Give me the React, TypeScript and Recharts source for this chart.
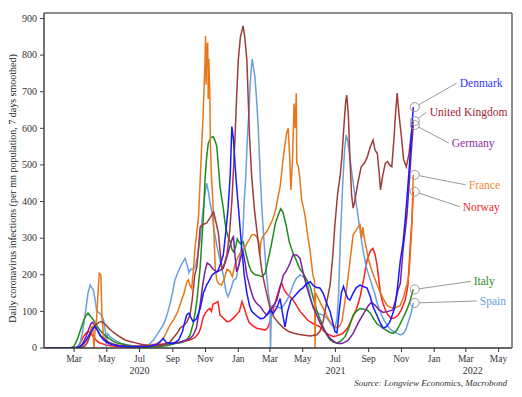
import { LineChart, Line, XAxis, YAxis, ReferenceDot } from "recharts";

const FONT = '"Liberation Serif", "DejaVu Serif", serif';

// day = days since 1 Jan 2020, value = daily infections per mn population (7d smoothed)
const denmark: [number, number][] = [
  [5, 0], [60, 0], [67, 2], [75, 8], [82, 20], [90, 40], [95, 52], [99, 58], [103, 50], [108, 35], [115, 22], [125, 12],
  [140, 6], [160, 4], [180, 4], [200, 5], [215, 10], [222, 20], [226, 26], [232, 15], [245, 12], [255, 22], [262, 45],
  [266, 70], [270, 90], [274, 95], [278, 82], [282, 72], [288, 80], [295, 108], [301, 150], [307, 172], [312, 185],
  [317, 199], [322, 205], [328, 210], [333, 230], [338, 254], [343, 320], [347, 382], [351, 473], [354, 605], [357, 570],
  [360, 500], [363, 440], [367, 370], [372, 280], [377, 200], [382, 150], [387, 115], [391, 100], [400, 88], [407, 80],
  [413, 81], [419, 90], [425, 104], [431, 95], [438, 110], [444, 135], [449, 90], [453, 58], [458, 100], [464, 131],
  [470, 140], [476, 150], [481, 158], [487, 165], [493, 175], [500, 181], [506, 170], [512, 165], [518, 164], [524, 150],
  [530, 125], [537, 100], [542, 70], [546, 45], [550, 41], [554, 100], [558, 150], [562, 168], [566, 150], [570, 135],
  [574, 131], [580, 150], [586, 165], [593, 172], [599, 168], [606, 164], [612, 140], [617, 113], [624, 90], [630, 70],
  [636, 54], [642, 58], [648, 70], [653, 90], [658, 113], [663, 170], [668, 240], [673, 287], [677, 350], [680, 404],
  [684, 480], [688, 570], [692, 658],
];

const unitedKingdom: [number, number][] = [
  [5, 0], [70, 0], [75, 2], [80, 5], [85, 15], [90, 35], [95, 55], [100, 62], [106, 70], [112, 72], [118, 65], [124, 55],
  [130, 47], [138, 38], [146, 30], [155, 22], [164, 18], [175, 14], [185, 10], [200, 7], [215, 6], [228, 9], [238, 15],
  [245, 28], [252, 40], [258, 55], [265, 62], [270, 70], [276, 90], [280, 130], [285, 200], [289, 222], [295, 331],
  [301, 338], [307, 341], [313, 355], [320, 372], [325, 340], [329, 313], [333, 250], [336, 213], [340, 230], [345, 255],
  [350, 320], [354, 400], [357, 486], [360, 577], [363, 690], [366, 787], [370, 850], [375, 880], [378, 850], [382, 787],
  [387, 577], [391, 468], [396, 380], [403, 290], [410, 210], [417, 160], [425, 110], [432, 85], [440, 70], [450, 55],
  [460, 45], [470, 40], [480, 37], [490, 35], [500, 33], [512, 36], [518, 45], [524, 72], [530, 120], [537, 172],
  [542, 250], [546, 336], [551, 420], [556, 473], [559, 520], [563, 610], [566, 670], [568, 691], [571, 640], [574, 520],
  [577, 420], [580, 382], [583, 400], [586, 427], [590, 460], [595, 495], [601, 505], [606, 520], [612, 550], [617, 568],
  [621, 540], [625, 532], [629, 470], [631, 432], [635, 470], [640, 505], [644, 509], [648, 500], [652, 495], [656, 570],
  [659, 640], [662, 696], [666, 630], [670, 577], [674, 515], [679, 495], [684, 530], [688, 580], [692, 620],
];

const germany: [number, number][] = [
  [5, 0], [62, 0], [70, 3], [76, 12], [82, 30], [87, 50], [91, 65], [94, 70], [98, 64], [103, 50], [109, 35], [116, 24],
  [124, 16], [134, 10], [145, 6], [160, 4], [180, 4], [200, 6], [220, 8], [240, 12], [255, 15], [265, 20], [275, 25],
  [282, 35], [288, 55], [292, 90], [296, 130], [300, 175], [304, 210], [308, 232], [313, 227], [319, 215], [326, 208],
  [332, 212], [338, 218], [344, 245], [348, 265], [351, 281], [355, 300], [357, 304], [360, 250], [363, 208], [367, 225],
  [371, 250], [375, 263], [379, 230], [382, 199], [388, 165], [394, 136], [400, 122], [407, 113], [413, 100], [419, 90],
  [425, 99], [431, 115], [438, 131], [443, 160], [450, 199], [455, 209], [462, 230], [468, 254], [475, 254], [481, 245],
  [487, 205], [494, 165], [500, 136], [506, 110], [512, 90], [518, 70], [524, 54], [531, 38], [537, 27], [545, 17],
  [552, 12], [559, 12], [570, 20], [580, 40], [590, 70], [600, 95], [608, 115], [614, 125], [620, 118], [628, 105],
  [636, 97], [645, 100], [654, 104], [660, 135], [664, 160], [668, 177], [673, 268], [677, 320], [680, 359], [684, 440],
  [688, 530], [692, 609],
];

const france: [number, number][] = [
  [5, 0], [55, 0], [65, 1], [72, 4], [78, 10], [84, 22], [88, 35], [92, 55], [95, 60], [97, 0], [99, 45], [102, 80],
  [105, 160], [107, 204], [110, 199], [112, 86], [115, 31], [120, 20], [130, 12], [140, 8], [155, 5], [175, 5], [195, 7],
  [210, 10], [220, 16], [227, 28], [233, 45], [239, 63], [245, 76], [252, 95], [258, 120], [265, 150], [270, 180],
  [273, 186], [276, 170], [279, 163], [282, 205], [285, 268], [289, 320], [292, 360], [295, 460], [298, 560], [300, 620],
  [302, 700], [304, 780], [305, 852], [306, 720], [307, 830], [309, 832], [310, 680], [311, 790], [313, 696], [314, 560],
  [316, 468], [318, 420], [321, 300], [323, 220], [326, 185], [330, 175], [335, 172], [340, 190], [345, 215], [350, 210],
  [355, 195], [360, 230], [366, 250], [372, 265], [379, 277], [386, 295], [391, 309], [396, 310], [400, 304], [404, 290],
  [406, 255], [408, 290], [412, 305], [416, 313], [420, 320], [425, 336], [430, 350], [436, 380], [441, 420], [444, 441],
  [450, 523], [456, 587], [459, 600], [462, 514], [464, 432], [467, 514], [470, 668], [472, 600], [474, 696], [475, 505],
  [478, 495], [481, 459], [484, 404], [488, 380], [491, 355], [496, 300], [500, 263], [505, 199], [508, 185], [509, 0],
  [510, 150], [515, 136], [520, 120], [524, 109], [530, 90], [537, 72], [543, 62], [550, 55], [555, 60], [559, 72],
  [565, 130], [571, 199], [576, 260], [580, 309], [585, 320], [589, 330], [593, 336], [596, 300], [598, 330], [602, 290],
  [605, 270], [608, 245], [613, 220], [618, 199], [624, 175], [630, 154], [636, 135], [643, 117], [649, 111], [655, 109],
  [662, 112], [668, 117], [674, 140], [680, 172], [684, 200], [686, 245], [689, 320], [691, 420], [692, 473],
];

const norway: [number, number][] = [
  [5, 0], [60, 0], [66, 3], [72, 15], [77, 30], [82, 40], [86, 45], [90, 42], [94, 35], [98, 28], [102, 20], [106, 15],
  [112, 12], [120, 8], [135, 5], [160, 3], [180, 3], [200, 5], [220, 10], [240, 12], [255, 15], [265, 18], [275, 22],
  [285, 28], [292, 40], [296, 55], [301, 86], [306, 98], [310, 105], [313, 108], [316, 100], [319, 120], [323, 122],
  [328, 127], [332, 90], [338, 82], [345, 72], [350, 73], [356, 81], [362, 90], [368, 100], [373, 127], [377, 110],
  [381, 90], [386, 70], [392, 62], [400, 54], [408, 52], [416, 49], [421, 55], [425, 72], [431, 104], [438, 140],
  [444, 170], [447, 177], [451, 160], [456, 149], [462, 140], [468, 131], [475, 115], [481, 100], [487, 90], [496, 75],
  [505, 67], [512, 62], [518, 58], [526, 45], [533, 38], [543, 31], [552, 35], [561, 40], [570, 55], [580, 86], [587, 110],
  [593, 140], [600, 190], [606, 240], [612, 265], [617, 272], [621, 255], [625, 222], [628, 185], [631, 149], [635, 125],
  [640, 104], [645, 90], [651, 81], [657, 82], [664, 90], [670, 105], [677, 131], [682, 170], [686, 268], [690, 360],
  [692, 427],
];

const italy: [number, number][] = [
  [5, 0], [52, 0], [56, 2], [60, 5], [65, 20], [70, 40], [74, 58], [78, 75], [82, 88], [86, 95], [90, 88], [96, 77],
  [102, 62], [108, 49], [115, 38], [121, 31], [127, 24], [133, 18], [142, 13], [152, 10], [165, 6], [180, 4], [200, 3],
  [220, 4], [235, 7], [248, 12], [260, 15], [270, 22], [276, 35], [282, 67], [286, 100], [289, 131], [292, 175],
  [295, 222], [298, 290], [301, 359], [304, 459], [307, 520], [310, 559], [315, 575], [319, 577], [323, 565], [326, 550],
  [329, 495], [332, 440], [335, 410], [338, 382], [341, 345], [344, 320], [348, 300], [351, 290], [354, 270], [357, 263],
  [361, 275], [364, 298], [367, 290], [370, 285], [375, 290], [380, 260], [386, 225], [390, 210], [394, 204], [398, 200],
  [403, 199], [410, 195], [416, 204], [420, 230], [425, 263], [430, 300], [435, 340], [440, 362], [445, 380], [449, 372],
  [455, 336], [461, 290], [468, 259], [474, 240], [481, 215], [487, 204], [494, 185], [500, 168], [506, 135], [512, 104],
  [518, 80], [524, 58], [530, 38], [537, 22], [543, 16], [550, 13], [558, 20], [565, 31], [572, 55], [580, 90], [586, 100],
  [593, 108], [600, 106], [606, 104], [612, 95], [618, 80], [624, 67], [632, 58], [640, 50], [648, 43], [655, 40],
  [662, 50], [668, 67], [674, 85], [680, 104], [686, 128], [692, 160],
];

const spain: [number, number][] = [
  [5, 0], [60, 0], [66, 3], [71, 13], [76, 45], [81, 95], [86, 150], [90, 172], [93, 165], [96, 159], [100, 125],
  [102, 102], [106, 97], [110, 92], [115, 77], [118, 49], [120, 3], [122, 40], [127, 31], [133, 24], [140, 18], [150, 11],
  [160, 8], [175, 5], [188, 4], [195, 5], [200, 10], [208, 22], [214, 35], [220, 49], [225, 60], [230, 76], [235, 100],
  [239, 122], [244, 155], [248, 186], [253, 205], [258, 222], [263, 235], [267, 245], [271, 225], [274, 205], [277, 215],
  [282, 215], [286, 222], [290, 250], [295, 295], [299, 360], [303, 410], [307, 450], [310, 430], [313, 400], [317, 370],
  [320, 330], [326, 280], [332, 240], [338, 200], [343, 155], [347, 140], [352, 160], [357, 185], [362, 190], [366, 220],
  [370, 260], [374, 300], [377, 400], [380, 468], [383, 577], [386, 650], [388, 714], [390, 760], [392, 789], [395, 760],
  [397, 741], [400, 680], [403, 609], [407, 468], [410, 380], [414, 290], [418, 210], [422, 150], [425, 122], [426, 0],
  [428, 115], [433, 115], [438, 113], [446, 108], [452, 120], [457, 131], [463, 150], [468, 172], [474, 190], [481, 199],
  [487, 195], [494, 181], [500, 140], [506, 108], [515, 95], [524, 90], [532, 80], [540, 62], [546, 54], [550, 80],
  [553, 150], [556, 290], [560, 430], [564, 540], [567, 582], [570, 565], [574, 520], [578, 473], [583, 420], [587, 382],
  [592, 330], [596, 290], [600, 255], [605, 218], [610, 195], [615, 172], [620, 150], [624, 127], [628, 108], [633, 90],
  [638, 75], [643, 63], [649, 52], [655, 45], [662, 40], [668, 36], [674, 40], [678, 50], [683, 72], [688, 95], [692, 123],
];

// name, series, line colour, label colour, label offset from end marker
const countries = [
  { name: "Norway", data: norway, line: "#ff1f1f", text: "#f22a2a", dx: 48, dy: 15 },
  { name: "Spain", data: spain, line: "#6a9fdc", text: "#5f9de2", dx: 65, dy: -2 },
  { name: "Italy", data: italy, line: "#1e8c1e", text: "#2a8a2a", dx: 59, dy: -8 },
  { name: "France", data: france, line: "#e8771a", text: "#f08a36", dx: 54, dy: 10 },
  { name: "Germany", data: germany, line: "#7a1f9c", text: "#8a2d9c", dx: 37, dy: 18 },
  { name: "United Kingdom", data: unitedKingdom, line: "#9e3b3b", text: "#a01c34", dx: 15, dy: -9 },
  { name: "Denmark", data: denmark, line: "#1a1aff", text: "#3333ff", dx: 45, dy: -24 },
];

const monthNames = ["Jan", "Feb", "Mar", "Apr", "May", "Jun", "Jul", "Aug", "Sep", "Oct", "Nov", "Dec"];
const tickMonths: [number, number][] = [
  [2020, 2], [2020, 4], [2020, 6], [2020, 8], [2020, 10], [2021, 0], [2021, 2], [2021, 4], [2021, 6], [2021, 8],
  [2021, 10], [2022, 0], [2022, 2], [2022, 4],
];
const yearLabels: [number, number, string][] = [[2020, 6, "2020"], [2021, 6, "2021"], [2022, 2, "2022"]];
const yTicks = [0, 100, 200, 300, 400, 500, 600, 700, 800, 900];

const DAY = 86400000;
const dayOf = (y: number, m: number) => (Date.UTC(y, m, 1) - Date.UTC(2020, 0, 1)) / DAY;
const xTicks = tickMonths.map(([y, m]) => dayOf(y, m));

const W = 522;
const H = 397;
const M = { top: 13, right: 10, left: 0, bottom: 19 };
const Y_W = 44;
const X_H = 30;

function MonthTick(props: any) {
  const { x, y, payload } = props;
  const d = new Date(Date.UTC(2020, 0, 1) + payload.value * DAY);
  const yl = yearLabels.find(([yy, mm]) => dayOf(yy, mm) === payload.value);
  return (
    <g>
      <text x={x} y={y + 8} textAnchor="middle" fontSize={9.5} fill="#333" fontFamily={FONT}>
        {monthNames[d.getUTCMonth()]}
      </text>
      {yl && (
        <text x={x + (yl[2] === "2022" ? 7 : 0)} y={y + 19.5} textAnchor="middle" fontSize={10} fill="#333" fontFamily={FONT}>
          {yl[2]}
        </text>
      )}
    </g>
  );
}

function ValueTick(props: any) {
  const { x, y, payload } = props;
  return (
    <text x={x - 1} y={y} dy={3.3} textAnchor="end" fontSize={10} fill="#333" fontFamily={FONT}>
      {payload.value}
    </text>
  );
}

function EndMark({ cx, cy, c }: any) {
  if (cx == null || cy == null) return null;
  const ox = cx + 1.5;
  const r = 4.5;
  const ex = ox + c.dx - 3;
  const ey = cy + c.dy;
  const a = Math.atan2(ey - cy, ex - ox);
  return (
    <g>
      <circle cx={ox} cy={cy} r={r} fill="none" stroke="#999" strokeWidth={1} />
      <line x1={ox + r * Math.cos(a)} y1={cy + r * Math.sin(a)} x2={ex} y2={ey} stroke="#999" strokeWidth={1} />
      <text x={ox + c.dx} y={ey} dy={4} fontSize={11.5} fill={c.text} fontFamily={FONT}>
        {c.name}
      </text>
    </g>
  );
}

export default function App() {
  const plotL = M.left + Y_W;
  const plotR = W - M.right;
  const plotT = M.top;
  const plotB = H - M.bottom - X_H;
  return (
    <div style={{ position: "absolute", left: 0, top: 0, width: W, height: H, background: "#fff" }}>
      <LineChart width={W} height={H} margin={M}>
        <XAxis
          type="number"
          dataKey="day"
          domain={[4, 876]}
          ticks={xTicks}
          tick={<MonthTick />}
          height={X_H}
          tickSize={4}
          axisLine={{ stroke: "#333", strokeWidth: 1.5 }}
          tickLine={{ stroke: "#333" }}
          allowDataOverflow
        />
        <YAxis
          type="number"
          domain={[0, 915]}
          ticks={yTicks}
          width={Y_W}
          tick={<ValueTick />}
          tickSize={4}
          axisLine={{ stroke: "#444", strokeWidth: 1.5 }}
          tickLine={{ stroke: "#444" }}
          allowDataOverflow
        />
        {countries.map((c) => (
          <Line
            key={c.name}
            data={c.data.map(([day, value]) => ({ day, value }))}
            dataKey="value"
            type="linear"
            stroke={c.line}
            strokeWidth={1.5}
            dot={false}
            activeDot={false}
            isAnimationActive={false}
          />
        ))}
        {countries.map((c) => {
          const last = c.data[c.data.length - 1];
          return (
            <ReferenceDot
              key={"m" + c.name}
              x={last[0]}
              y={last[1]}
              r={4}
              shape={(p: any) => <EndMark cx={p.cx} cy={p.cy} c={c} />}
            />
          );
        })}
      </LineChart>
      <svg width={W} height={H} style={{ position: "absolute", left: 0, top: 0, pointerEvents: "none" }}>
        <line x1={plotL} y1={plotT} x2={plotR} y2={plotT} stroke="#666" strokeWidth={1.5} />
        <line x1={plotR} y1={plotT} x2={plotR} y2={plotB} stroke="#666" strokeWidth={1.5} />
        <text
          transform={`translate(16, ${(plotT + plotB) / 2 + 8}) rotate(-90)`}
          textAnchor="middle"
          fontSize={10}
          fill="#222"
          fontFamily={FONT}
        >
          Daily coronavirus infections (per mn population, 7 days smoothed)
        </text>
        <text x={507} y={386} textAnchor="end" fontSize={9} fontStyle="italic" fill="#333" fontFamily={FONT}>
          Source: Longview Economics, Macrobond
        </text>
      </svg>
    </div>
  );
}
